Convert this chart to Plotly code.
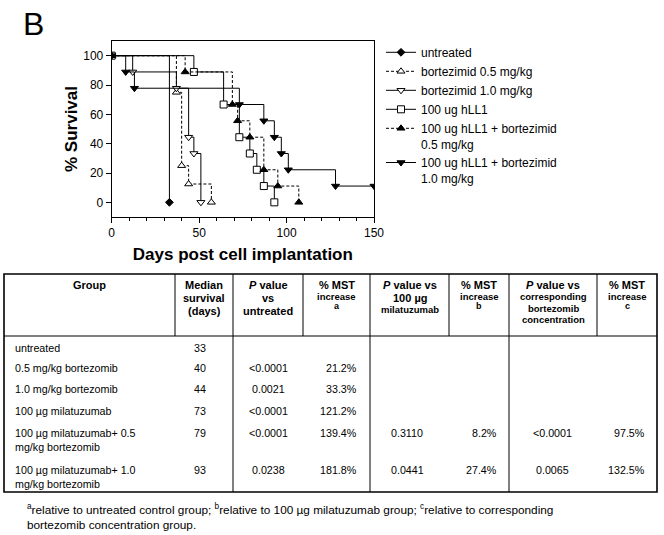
import plotly.graph_objects as go

W, H = 664, 535

# ---------------- survival data ----------------
series_names = [
    "untreated",
    "bortezimid 0.5 mg/kg",
    "bortezimid 1.0 mg/kg",
    "100 ug hLL1",
    "100 ug hLL1 + bortezimid<br>0.5 mg/kg",
    "100 ug hLL1 + bortezimid<br>1.0 mg/kg",
]
days_untreated = [0, 33]
surv_untreated = [100, 0]
days_bort05 = [0, 37, 40, 44, 57]
surv_bort05 = [100, 75, 25, 12.5, 0]
days_bort10 = [0, 12, 37, 44, 47, 51]
surv_bort10 = [100, 88.9, 77.8, 44.4, 33.3, 0]
days_hll1 = [0, 47, 64, 73, 79, 83, 87, 93]
surv_hll1 = [100, 88.9, 66.7, 44.4, 33.3, 22.2, 11.1, 0]
days_hll1_05 = [0, 42, 69, 72, 79, 87, 95, 107]
surv_hll1_05 = [100, 88.9, 66.7, 55.6, 44.4, 22.2, 11.1, 0]
days_hll1_10 = [0, 8, 13, 73, 87, 93, 97, 101, 128, 150]
surv_hll1_10 = [100, 88.9, 77.8, 66.7, 55.6, 44.4, 33.3, 22.2, 11.1, 11.1]

x_ticks = [0, 50, 100, 150]
y_ticks = [0, 20, 40, 60, 80, 100]

# ---------------- table data ----------------
groups = [
    "untreated",
    "0.5 mg/kg bortezomib",
    "1.0 mg/kg bortezomib",
    "100 \u00b5g milatuzumab",
    "100 \u00b5g milatuzumab+ 0.5<br>mg/kg bortezomib",
    "100 \u00b5g milatuzumab+ 1.0<br>mg/kg bortezomib",
]
median_survival = ["33", "40", "44", "73", "79", "93"]
p_vs_untreated = ["", "<0.0001", "0.0021", "<0.0001", "<0.0001", "0.0238"]
mst_a = ["", "21.2%", "33.3%", "121.2%", "139.4%", "181.8%"]
p_vs_hll1 = ["", "", "", "", "0.3110", "0.0441"]
mst_b = ["", "", "", "", "8.2%", "27.4%"]
p_vs_bort = ["", "", "", "", "<0.0001", "0.0065"]
mst_c = ["", "", "", "", "97.5%", "132.5%"]

header_lines = [
    [("Group", "h")],
    [("Median", "h"), ("survival", "h"), ("(days)", "h")],
    [("<i>P</i> value", "h"), ("vs", "h"), ("untreated", "h")],
    [("% MST", "h"), ("increase", "s"), ("a", "x")],
    [("<i>P</i> value vs", "h"), ("100 \u00b5g", "h"), ("milatuzumab", "s")],
    [("% MST", "h"), ("increase", "s"), ("b", "x")],
    [("<i>P</i> value vs", "h"), ("corresponding", "s"), ("bortezomib", "s"), ("concentration", "s")],
    [("% MST", "h"), ("increase", "s"), ("c", "x")],
]
footnote_text = (
    "<sup>a</sup>relative to untreated control group; <sup>b</sup>relative to 100 \u00b5g milatuzumab group; "
    "<sup>c</sup>relative to corresponding<br>bortezomib concentration group."
)

# ---------------- styles ----------------
FONT = "Arial, Liberation Sans, sans-serif"
symbols = ["diamond", "triangle-up", "triangle-down", "square", "triangle-up", "triangle-down"]
fills = ["black", "white", "white", "white", "black", "black"]
dashes = ["solid", "3px,2px", "solid", "solid", "3px,2px", "solid"]
sizes = [6, 7, 7, 7, 7, 7]


def px(x):
    return x / W


def py(y):
    return 1 - y / H


fig = go.Figure()
all_days = [days_untreated, days_bort05, days_bort10, days_hll1, days_hll1_05, days_hll1_10]
all_surv = [surv_untreated, surv_bort05, surv_bort10, surv_hll1, surv_hll1_05, surv_hll1_10]
for i, name in enumerate(series_names):
    fig.add_trace(go.Scatter(
        x=all_days[i], y=all_surv[i], name=name, mode="lines+markers",
        line=dict(shape="hv", color="black", width=1, dash=dashes[i]),
        marker=dict(symbol=symbols[i], size=sizes[i], color=fills[i],
                    line=dict(color="black", width=1)),
    ))

# plot area in px
PL, PR, PT, PB = 111.7, 374.0, 41.0, 217.0

fig.update_layout(
    template="none",
    width=W, height=H,
    margin=dict(l=0, r=0, t=0, b=0),
    paper_bgcolor="white", plot_bgcolor="white",
    font=dict(family=FONT, color="black", size=12),
    showlegend=True,
    legend=dict(
        x=px(381), y=py(38), xanchor="left", yanchor="top",
        font=dict(size=12, family=FONT), tracegroupgap=0,
        itemwidth=30, valign="top", bgcolor="rgba(0,0,0,0)",
    ),
    xaxis=dict(
        domain=[px(PL), px(PR)], range=[0, 150], tickvals=x_ticks,
        ticks="outside", ticklen=5, tickwidth=1, tickcolor="black",
        minor=dict(dtick=10, ticks="outside", ticklen=3, tickcolor="black", showgrid=False),
        showline=True, linecolor="black", linewidth=1, mirror=True,
        showgrid=False, zeroline=False, tickfont=dict(size=12),
        title=dict(text="<b>Days post cell implantation</b>", font=dict(size=17), standoff=8),
    ),
    yaxis=dict(
        domain=[py(PB), py(PT)], range=[-10, 110], tickvals=y_ticks,
        ticks="outside", ticklen=5, tickwidth=1, tickcolor="black",
        showline=True, linecolor="black", linewidth=1, mirror=True,
        showgrid=False, zeroline=False, tickfont=dict(size=12),
        title=dict(text="<b>% Survival</b>", font=dict(size=17), standoff=1),
    ),
)

annotations = []
shapes = []

# panel letter
annotations.append(dict(text="B", x=px(21), y=py(24), xref="paper", yref="paper",
                        xanchor="left", yanchor="middle", showarrow=False,
                        font=dict(size=32, family=FONT)))

# ---------------- table ----------------
col_edges = [4, 175, 233, 303, 370, 449, 509, 597, 657]
T_TOP, T_HEAD, T_BOT = 274, 336, 492
body_vlines = [233, 370, 509]

shapes.append(dict(type="rect", xref="paper", yref="paper",
                   x0=px(col_edges[0]), x1=px(col_edges[-1]), y0=py(T_TOP), y1=py(T_BOT),
                   line=dict(color="black", width=1.6)))
shapes.append(dict(type="line", xref="paper", yref="paper",
                   x0=px(col_edges[0]), x1=px(col_edges[-1]), y0=py(T_HEAD), y1=py(T_HEAD),
                   line=dict(color="black", width=1.2)))
for xe in col_edges[1:-1]:
    bottom = T_BOT if xe in body_vlines else T_HEAD
    shapes.append(dict(type="line", xref="paper", yref="paper",
                       x0=px(xe), x1=px(xe), y0=py(T_TOP), y1=py(bottom),
                       line=dict(color="black", width=1)))

# header
size_of = {"h": 11, "s": 9.5, "x": 9}
gap_of = {"h": 13, "s": 11.5, "x": 9.5}
for c, lines in enumerate(header_lines):
    xc = (col_edges[c] + col_edges[c + 1]) / 2
    yc = 285
    for j, (txt, st) in enumerate(lines):
        if j > 0:
            yc += gap_of[st]
        annotations.append(dict(text="<b>" + txt + "</b>", x=px(xc), y=py(yc),
                                xref="paper", yref="paper", xanchor="center", yanchor="middle",
                                showarrow=False, borderpad=0,
                                font=dict(size=size_of[st], family=FONT)))

# body
row_centers = [348, 368, 389, 411, 433, 470]
columns = [groups, median_survival, p_vs_untreated, mst_a, p_vs_hll1, mst_b, p_vs_bort, mst_c]
col_x = [14, 200, 268, 358, 407, 498, 552, 646]
col_anchor = ["left", "center", "center", "right", "center", "right", "center", "right"]
for c, vals in enumerate(columns):
    for r, v in enumerate(vals):
        if not v:
            continue
        annotations.append(dict(text=v, x=px(col_x[c]), y=py(row_centers[r] - 7.5),
                                xref="paper", yref="paper", xanchor=col_anchor[c], yanchor="top",
                                align="left", showarrow=False, borderpad=0,
                                font=dict(size=10.7, family=FONT)))

# footnote
annotations.append(dict(text=footnote_text, x=px(26), y=py(501), xref="paper", yref="paper",
                        xanchor="left", yanchor="top", align="left", showarrow=False, borderpad=0,
                        font=dict(size=11.8, family=FONT)))

fig.update_layout(annotations=annotations, shapes=shapes)
fig.write_html("out.html", config={"displayModeBar": False},
               post_script="document.body.style.margin='0';")
